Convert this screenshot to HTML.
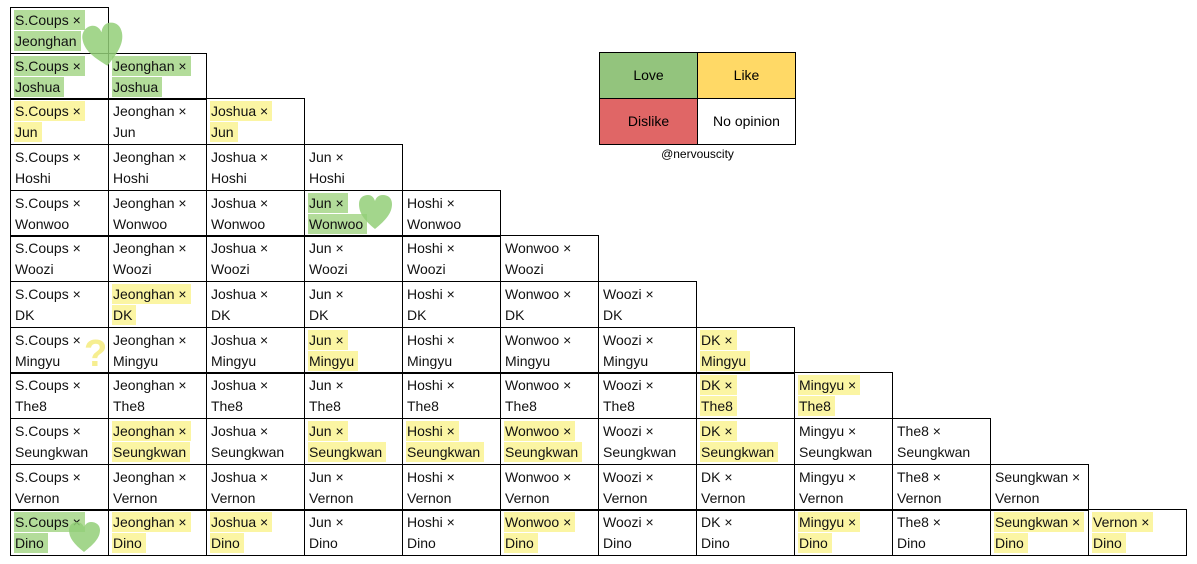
<!DOCTYPE html>
<html><head><meta charset="utf-8"><style>
body{margin:0;width:1197px;height:564px;background:#fff;position:relative;overflow:hidden;font-family:"Liberation Sans",sans-serif;}
.c{position:absolute;box-sizing:border-box;width:99px;height:47px;border:1px solid #000;padding:2px 0 0 4px;font-size:14px;line-height:21px;color:#111;white-space:nowrap}
.g span{background:#b3dc9a;padding:2px 4px 2px 1px;margin-left:-1px}
.y span{background:#fbf5a3;padding:2px 4px 2px 1px;margin-left:-1px}
.lg{position:absolute;box-sizing:border-box;width:99px;height:47px;border:1px solid #000;font-size:14px;text-align:center;line-height:45px}
.h{position:absolute;}
</style></head><body>
<div class="c g" style="left:10px;top:7px"><span>S.Coups ×</span><br><span>Jeonghan</span></div>

<div class="c g" style="left:10px;top:53px"><span>S.Coups ×</span><br><span>Joshua</span></div>
<div class="c g" style="left:108px;top:53px"><span>Jeonghan ×</span><br><span>Joshua</span></div>

<div class="c y" style="left:10px;top:98px"><span>S.Coups ×</span><br><span>Jun</span></div>
<div class="c" style="left:108px;top:98px">Jeonghan ×<br>Jun</div>
<div class="c y" style="left:206px;top:98px"><span>Joshua ×</span><br><span>Jun</span></div>

<div class="c" style="left:10px;top:144px">S.Coups ×<br>Hoshi</div>
<div class="c" style="left:108px;top:144px">Jeonghan ×<br>Hoshi</div>
<div class="c" style="left:206px;top:144px">Joshua ×<br>Hoshi</div>
<div class="c" style="left:304px;top:144px">Jun ×<br>Hoshi</div>

<div class="c" style="left:10px;top:190px">S.Coups ×<br>Wonwoo</div>
<div class="c" style="left:108px;top:190px">Jeonghan ×<br>Wonwoo</div>
<div class="c" style="left:206px;top:190px">Joshua ×<br>Wonwoo</div>
<div class="c g" style="left:304px;top:190px"><span>Jun ×</span><br><span>Wonwoo</span></div>
<div class="c" style="left:402px;top:190px">Hoshi ×<br>Wonwoo</div>

<div class="c" style="left:10px;top:235px">S.Coups ×<br>Woozi</div>
<div class="c" style="left:108px;top:235px">Jeonghan ×<br>Woozi</div>
<div class="c" style="left:206px;top:235px">Joshua ×<br>Woozi</div>
<div class="c" style="left:304px;top:235px">Jun ×<br>Woozi</div>
<div class="c" style="left:402px;top:235px">Hoshi ×<br>Woozi</div>
<div class="c" style="left:500px;top:235px">Wonwoo ×<br>Woozi</div>

<div class="c" style="left:10px;top:281px">S.Coups ×<br>DK</div>
<div class="c y" style="left:108px;top:281px"><span>Jeonghan ×</span><br><span>DK</span></div>
<div class="c" style="left:206px;top:281px">Joshua ×<br>DK</div>
<div class="c" style="left:304px;top:281px">Jun ×<br>DK</div>
<div class="c" style="left:402px;top:281px">Hoshi ×<br>DK</div>
<div class="c" style="left:500px;top:281px">Wonwoo ×<br>DK</div>
<div class="c" style="left:598px;top:281px">Woozi ×<br>DK</div>

<div class="c" style="left:10px;top:327px">S.Coups ×<br>Mingyu</div>
<div class="c" style="left:108px;top:327px">Jeonghan ×<br>Mingyu</div>
<div class="c" style="left:206px;top:327px">Joshua ×<br>Mingyu</div>
<div class="c y" style="left:304px;top:327px"><span>Jun ×</span><br><span>Mingyu</span></div>
<div class="c" style="left:402px;top:327px">Hoshi ×<br>Mingyu</div>
<div class="c" style="left:500px;top:327px">Wonwoo ×<br>Mingyu</div>
<div class="c" style="left:598px;top:327px">Woozi ×<br>Mingyu</div>
<div class="c y" style="left:696px;top:327px"><span>DK ×</span><br><span>Mingyu</span></div>

<div class="c" style="left:10px;top:372px">S.Coups ×<br>The8</div>
<div class="c" style="left:108px;top:372px">Jeonghan ×<br>The8</div>
<div class="c" style="left:206px;top:372px">Joshua ×<br>The8</div>
<div class="c" style="left:304px;top:372px">Jun ×<br>The8</div>
<div class="c" style="left:402px;top:372px">Hoshi ×<br>The8</div>
<div class="c" style="left:500px;top:372px">Wonwoo ×<br>The8</div>
<div class="c" style="left:598px;top:372px">Woozi ×<br>The8</div>
<div class="c y" style="left:696px;top:372px"><span>DK ×</span><br><span>The8</span></div>
<div class="c y" style="left:794px;top:372px"><span>Mingyu ×</span><br><span>The8</span></div>

<div class="c" style="left:10px;top:418px">S.Coups ×<br>Seungkwan</div>
<div class="c y" style="left:108px;top:418px"><span>Jeonghan ×</span><br><span>Seungkwan</span></div>
<div class="c" style="left:206px;top:418px">Joshua ×<br>Seungkwan</div>
<div class="c y" style="left:304px;top:418px"><span>Jun ×</span><br><span>Seungkwan</span></div>
<div class="c y" style="left:402px;top:418px"><span>Hoshi ×</span><br><span>Seungkwan</span></div>
<div class="c y" style="left:500px;top:418px"><span>Wonwoo ×</span><br><span>Seungkwan</span></div>
<div class="c" style="left:598px;top:418px">Woozi ×<br>Seungkwan</div>
<div class="c y" style="left:696px;top:418px"><span>DK ×</span><br><span>Seungkwan</span></div>
<div class="c" style="left:794px;top:418px">Mingyu ×<br>Seungkwan</div>
<div class="c" style="left:892px;top:418px">The8 ×<br>Seungkwan</div>

<div class="c" style="left:10px;top:464px">S.Coups ×<br>Vernon</div>
<div class="c" style="left:108px;top:464px">Jeonghan ×<br>Vernon</div>
<div class="c" style="left:206px;top:464px">Joshua ×<br>Vernon</div>
<div class="c" style="left:304px;top:464px">Jun ×<br>Vernon</div>
<div class="c" style="left:402px;top:464px">Hoshi ×<br>Vernon</div>
<div class="c" style="left:500px;top:464px">Wonwoo ×<br>Vernon</div>
<div class="c" style="left:598px;top:464px">Woozi ×<br>Vernon</div>
<div class="c" style="left:696px;top:464px">DK ×<br>Vernon</div>
<div class="c" style="left:794px;top:464px">Mingyu ×<br>Vernon</div>
<div class="c" style="left:892px;top:464px">The8 ×<br>Vernon</div>
<div class="c" style="left:990px;top:464px">Seungkwan ×<br>Vernon</div>

<div class="c g" style="left:10px;top:509px"><span>S.Coups ×</span><br><span>Dino</span></div>
<div class="c y" style="left:108px;top:509px"><span>Jeonghan ×</span><br><span>Dino</span></div>
<div class="c y" style="left:206px;top:509px"><span>Joshua ×</span><br><span>Dino</span></div>
<div class="c" style="left:304px;top:509px">Jun ×<br>Dino</div>
<div class="c" style="left:402px;top:509px">Hoshi ×<br>Dino</div>
<div class="c y" style="left:500px;top:509px"><span>Wonwoo ×</span><br><span>Dino</span></div>
<div class="c" style="left:598px;top:509px">Woozi ×<br>Dino</div>
<div class="c" style="left:696px;top:509px">DK ×<br>Dino</div>
<div class="c y" style="left:794px;top:509px"><span>Mingyu ×</span><br><span>Dino</span></div>
<div class="c" style="left:892px;top:509px">The8 ×<br>Dino</div>
<div class="c y" style="left:990px;top:509px"><span>Seungkwan ×</span><br><span>Dino</span></div>
<div class="c y" style="left:1088px;top:509px"><span>Vernon ×</span><br><span>Dino</span></div>

<svg class="h" style="left:0;top:0" width="1197" height="564">
<g fill="#93cf78" opacity="0.85">
<path transform="translate(84,24) rotate(-10 20 22)" d="M20 42 C6 30 0 22 0 12 C0 4 6 0 11 0 C16 0 19 4 20 8 C21 4 24 0 29 0 C35 0 40 4 40 12 C40 22 34 30 20 42Z"/>
<path transform="translate(359,195)" d="M16 34 C5 25 0 18 0 9 C0 3 4 0 9 0 C13 0 15 3 16 6 C17 3 19 0 24 0 C29 0 33 3 33 9 C33 18 27 25 16 34Z"/>
<path transform="translate(69,522)" d="M15 30 C5 22 0 16 0 8 C0 3 4 0 8 0 C12 0 14 3 15 5 C16 3 18 0 22 0 C27 0 31 3 31 8 C31 16 25 22 15 30Z"/>
</g>
<text x="84" y="366" font-family="Liberation Sans" font-size="38" font-weight="bold" fill="#f6ee90">?</text>
</svg>

<div class="lg" style="left:599px;top:52px;background:#93c47d">Love</div>
<div class="lg" style="left:697px;top:52px;background:#ffd966">Like</div>
<div class="lg" style="left:599px;top:98px;background:#e06666">Dislike</div>
<div class="lg" style="left:697px;top:98px;background:#fff">No opinion</div>
<div style="position:absolute;left:599px;top:147px;width:197px;text-align:center;font-size:12px">@nervouscity</div>
</body></html>
